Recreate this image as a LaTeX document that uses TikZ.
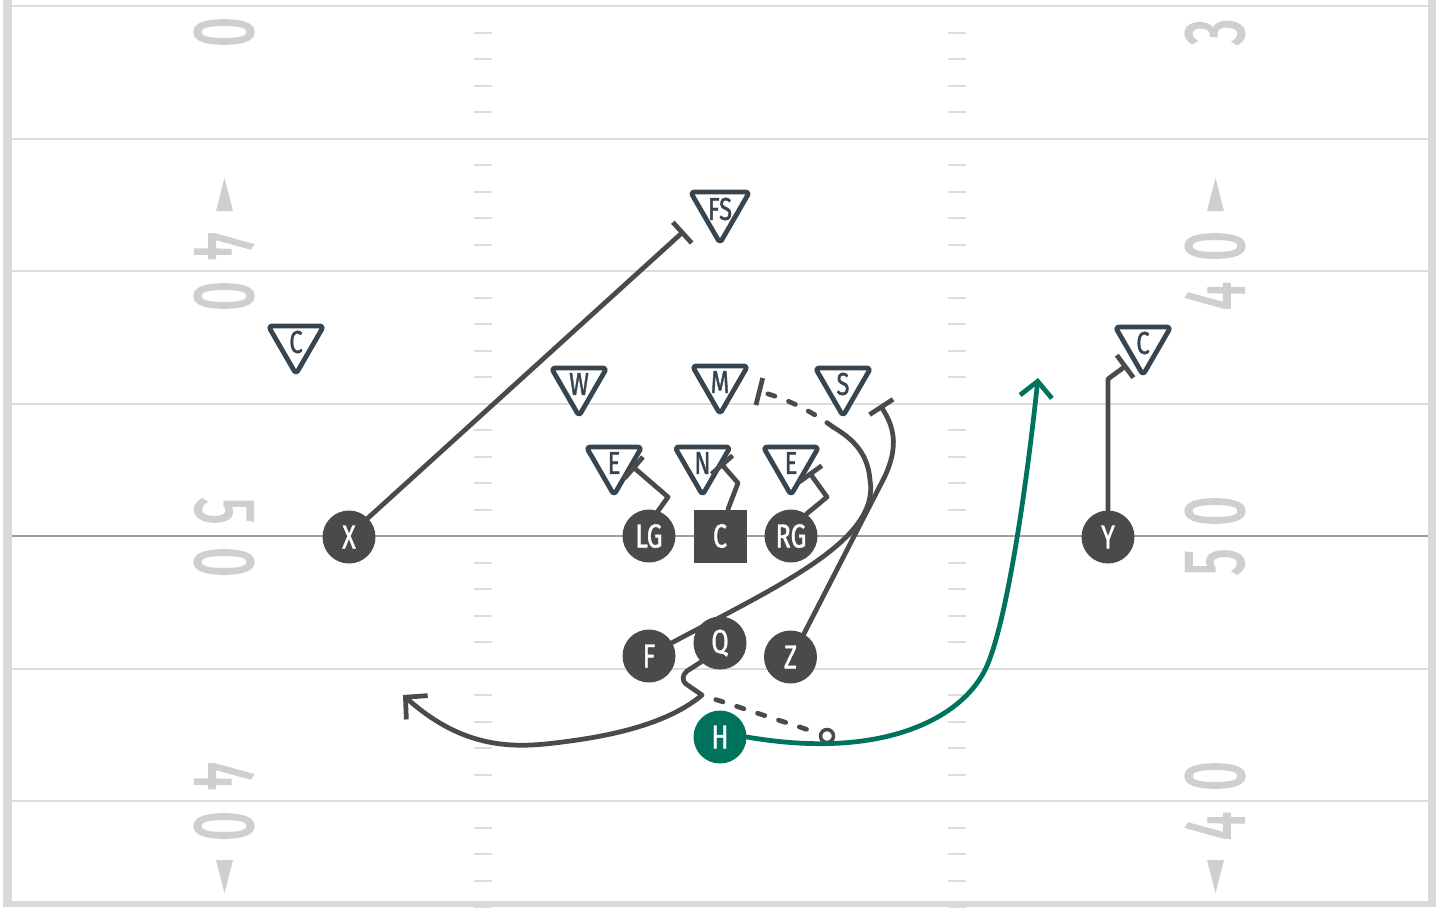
\documentclass[tikz,border=0pt]{standalone}
\usepackage{fontspec}
\usepackage{tikz}
\usetikzlibrary{shapes.geometric, arrows.meta, calc}
\usepackage{xcolor}

\newfontfamily\labelfont[FakeStretch=0.75, FakeBold=1.2]{Fira Sans}
\newfontfamily\yardfont[FakeStretch=0.62, FakeBold=2]{Fira Sans}

\definecolor{offgray}{HTML}{4A4A4A}
\definecolor{defslate}{HTML}{36454F}
\definecolor{hteal}{HTML}{00735F}
\definecolor{yardline}{HTML}{DCDCDC}
\definecolor{losgray}{HTML}{9E9E9E}
\definecolor{numgray}{HTML}{CFCFCF}
\definecolor{framegray}{HTML}{D9D9D9}

\begin{document}
\begin{tikzpicture}[
    x=0.02cm, y=-0.02cm,
    player/.style={circle, fill=offgray, text=white, minimum size=1.06cm, inner sep=0pt, font=\labelfont\fontsize{19}{20}\selectfont},
    snapper/.style={player, rectangle},
    defender/.style={regular polygon, regular polygon sides=3, shape border rotate=180, draw=defslate, fill=white, line width=0.095cm, rounded corners=2pt, line join=round, minimum size=1.28cm, inner sep=0pt, text=defslate, font=\labelfont\fontsize{18}{18}\selectfont},
    route/.style={draw=offgray, line width=0.095cm, line cap=round, line join=round},
    blockroute/.style={route, -{Bar[width=5.6mm]}},
    arrowroute/.style={route, -{Straight Barb[length=3.1mm, width=6.4mm]}},
    dashroute/.style={route, dash pattern=on 0.15cm off 0.29cm},
    pitchdot/.style={circle, draw=offgray, fill=white, line width=0.07cm, minimum size=0.26cm, inner sep=0pt},
    yardnum/.style={text=numgray, font=\yardfont\fontsize{49}{50}\selectfont, inner sep=0pt},
    hashmark/.style={draw=yardline, line width=0.04cm}
]
\useasboundingbox (0,0) rectangle (1436,907);
\fill[white] (0,0) rectangle (1436,907);

\foreach \y in {6,138.5,271,403.5,668.5,801}
    \draw[yardline, line width=0.04cm] (12,\y) -- (1428,\y);
\draw[losgray, line width=0.04cm] (12,536) -- (1428,536);
\foreach \k in {0,...,6}
    \foreach \j in {1,...,4} {
        \pgfmathsetmacro\hy{6+132.5*\k+26.5*\j}
        \draw[hashmark] (474,\hy) -- (492,\hy) (948,\hy) -- (966,\hy);
    }

\foreach \y/\d in {32/0, 246/4, 296/0, 511/5, 562/0, 776/4, 826/0}
    \node[yardnum, rotate=-90] (ln\y) at (224,\y) {\d};
\foreach \y/\d in {32/3, 246/0, 296/4, 511/0, 562/5, 776/0, 826/4}
    \node[yardnum, rotate=90] (rn\y) at (1215,\y) {\d};
\fill[numgray] (216,211) -- (233,211) -- (224.5,178) -- cycle;
\fill[numgray] (216,860) -- (233,860) -- (224.5,893) -- cycle;
\fill[numgray] (1207,211) -- (1224,211) -- (1215.5,178) -- cycle;
\fill[numgray] (1207,860) -- (1224,860) -- (1215.5,893) -- cycle;

\fill[framegray] (3,0) rectangle (12,907);
\fill[framegray] (1428,0) rectangle (1436,907);
\fill[framegray] (3,901) rectangle (1436,907);

\node[defender] (FS) at (720,209) {FS};
\node[defender] (CBl) at (296,342) {C};
\node[defender] (W) at (579,384) {W};
\node[defender] (M) at (720,382) {M};
\node[defender] (S) at (843,384) {S};
\node[defender] (El) at (614,463) {E};
\node[defender] (N) at (702.5,463) {N};
\node[defender] (Er) at (791,463) {E};
\node[defender] (CBr) at (1143,343) {C};

\node[player] (X) at (349,537) {X};
\node[player] (LG) at (649,536) {LG};
\node[snapper] (C) at (720,536) {C};
\node[player] (RG) at (791,536) {RG};
\node[player] (Y) at (1108,537) {Y};
\node[player] (F) at (649,656) {F};
\node[player] (Q) at (720,643) {Q};
\node[player] (Z) at (790.5,657) {Z};
\node[player, fill=hteal] (H) at (720,737) {H};
\node[pitchdot] (pitch) at (827,736) {};

\coordinate (fturn) at (833,427);
\coordinate (qfake) at (702,695);
\coordinate (hend) at (1038,378);

\draw[blockroute] (X.north east) -- ($(FS)+(-36,22)$);
\draw[blockroute] (Y.north) -- ($(CBr)+(-35,36)$) -- ($(CBr)+(-16,22)$);
\draw[blockroute] (LG.70) -- ($(El)+(54,34)$) -- ($(El)+(18,3)$);
\draw[blockroute] ($(C.north)+(8,0)$) -- ($(N)+(35.5,20)$) -- ($(N)+(18,0)$);
\draw[blockroute] (RG.55) -- ($(Er)+(36,34)$) -- ($(Er)+(18,9)$);
\draw[route] (F.30) .. controls (780,585) and (880,540) .. (870,480) .. controls (868,455) and (855,440) .. (fturn);
\draw[dashroute, -{Bar[width=5.6mm]}] (fturn) .. controls (810,410) and (785,398) .. ($(M)+(37,9)$);
\draw[blockroute] (Z.60) -- (884,478) .. controls (900,445) and (893,425) .. ($(S)+(37,21)$);
\draw[arrowroute] (Q.south west) -- (687,671) .. controls (682,675) and (682,681) .. (686,684) -- (qfake)
    .. controls (675,718) and (630,733) .. (570,741) .. controls (525,747) and (470,755) .. (403,695);
\draw[dashroute, dash phase=0.15cm] (qfake) -- (pitch);
\draw[arrowroute, draw=hteal] (H.east) .. controls (880,760) and (960,720) .. (985,670) .. controls (1005,630) and (1025,500) .. (hend);
\end{tikzpicture}
\end{document}
